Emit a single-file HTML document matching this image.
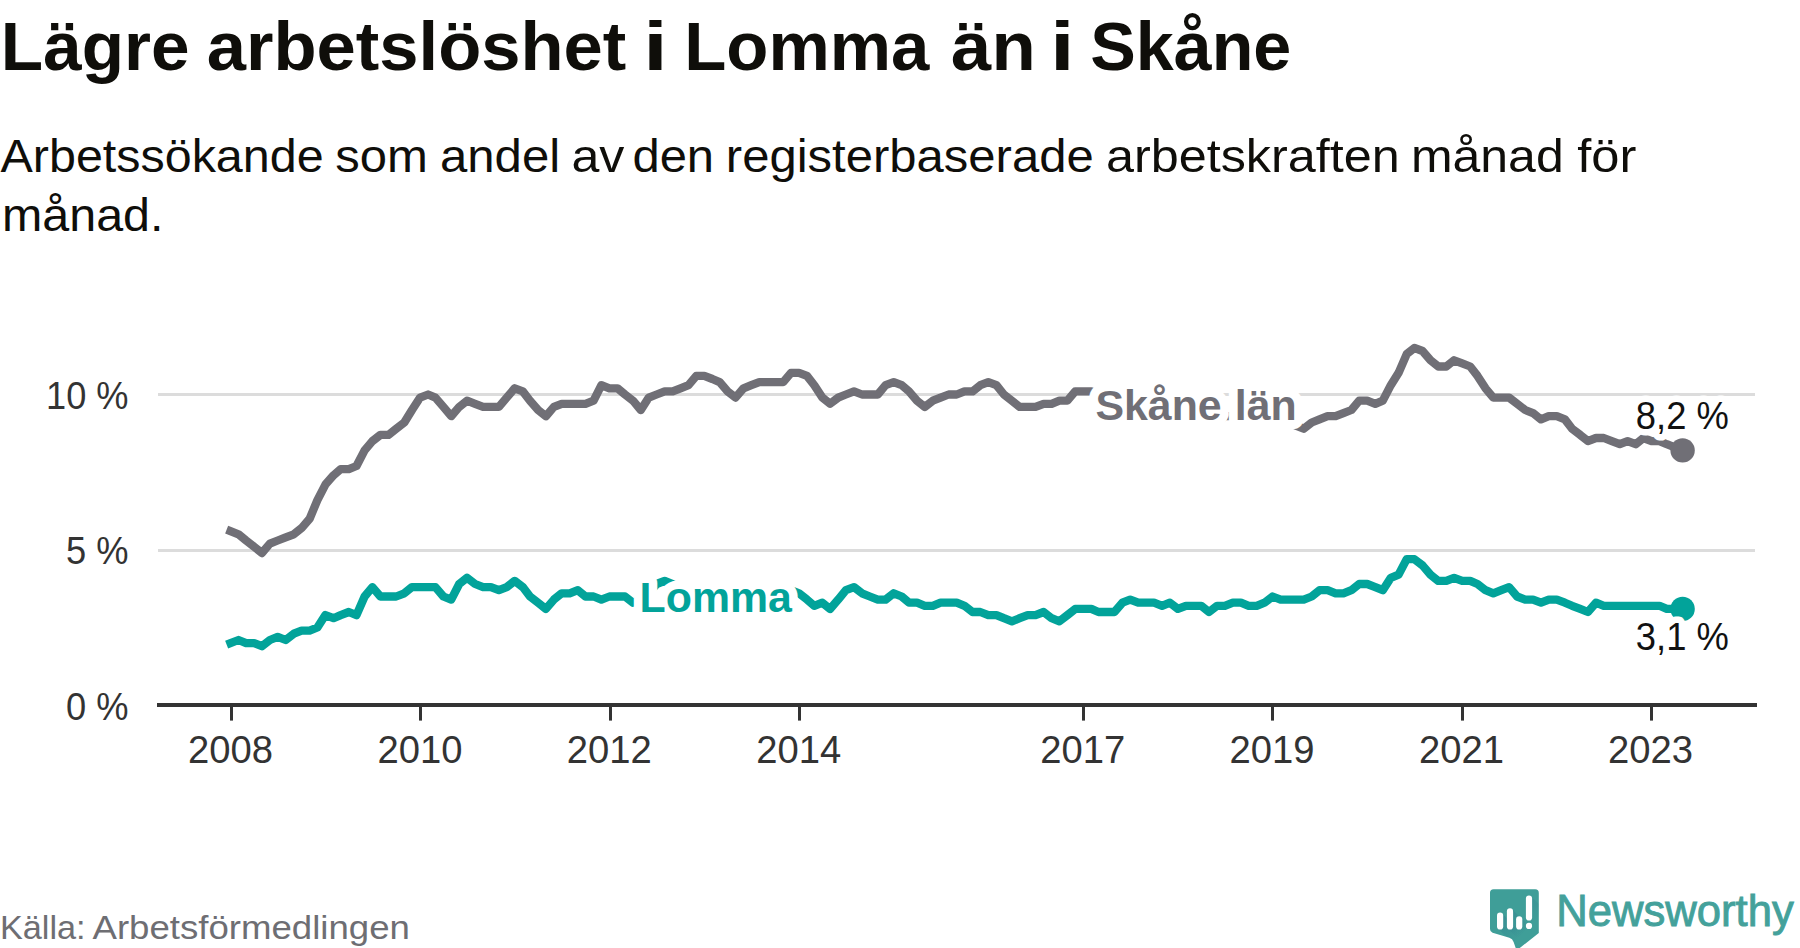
<!DOCTYPE html>
<html lang="sv"><head><meta charset="utf-8"><title>Lägre arbetslöshet i Lomma än i Skåne</title>
<style>
html,body{margin:0;padding:0;background:#fff;}
body{width:1800px;height:948px;overflow:hidden;}
svg{display:block;}
text{font-family:"Liberation Sans",sans-serif;}
.b{font-weight:bold;}
.halo{paint-order:stroke fill;stroke:#fff;stroke-linejoin:round;stroke-linecap:round;}
</style></head><body>
<svg width="1800" height="948" viewBox="0 0 1800 948">
<rect width="1800" height="948" fill="#fff"/>
<text id="title" class="b" y="69.5" font-size="67.6" fill="#0f0e0a"><tspan x="0.88" textLength="188.73" lengthAdjust="spacingAndGlyphs">Lägre</tspan> <tspan x="206.83" textLength="419.43" lengthAdjust="spacingAndGlyphs">arbetslöshet</tspan> <tspan x="643.29" textLength="24.42" lengthAdjust="spacingAndGlyphs">i</tspan> <tspan x="684.29" textLength="244.96" lengthAdjust="spacingAndGlyphs">Lomma</tspan> <tspan x="951.13" textLength="84.67" lengthAdjust="spacingAndGlyphs">än</tspan> <tspan x="1050.09" textLength="24.63" lengthAdjust="spacingAndGlyphs">i</tspan> <tspan x="1090.17" textLength="201.18" lengthAdjust="spacingAndGlyphs">Skåne</tspan></text>
<text id="sub1" class="" y="172" font-size="46.5" fill="#0f0e0a"><tspan x="0.52" textLength="323.11" lengthAdjust="spacingAndGlyphs">Arbetssökande</tspan> <tspan x="335.17" textLength="92.66" lengthAdjust="spacingAndGlyphs">som</tspan> <tspan x="440.03" textLength="120.10" lengthAdjust="spacingAndGlyphs">andel</tspan> <tspan x="571.41" textLength="52.97" lengthAdjust="spacingAndGlyphs">av</tspan> <tspan x="632.44" textLength="81.65" lengthAdjust="spacingAndGlyphs">den</tspan> <tspan x="725.86" textLength="367.82" lengthAdjust="spacingAndGlyphs">registerbaserade</tspan> <tspan x="1106.02" textLength="293.60" lengthAdjust="spacingAndGlyphs">arbetskraften</tspan> <tspan x="1410.92" textLength="152.79" lengthAdjust="spacingAndGlyphs">månad</tspan> <tspan x="1577.26" textLength="59.15" lengthAdjust="spacingAndGlyphs">för</tspan></text>
<text id="sub2" class="" x="2" y="231.25" font-size="46.5" fill="#0f0e0a" text-anchor="start" textLength="161.5" lengthAdjust="spacingAndGlyphs" >månad.</text>
<line x1="158" x2="1755" y1="394.50" y2="394.50" stroke="#dcdcdc" stroke-width="3"/>
<line x1="158" x2="1755" y1="550.50" y2="550.50" stroke="#dcdcdc" stroke-width="3"/>
<path d="M230.5,531.2 L238.5,534.3 L246.1,540.5 L254.1,546.7 L261.9,553.0 L269.9,543.6 L277.7,540.5 L285.7,537.4 L293.8,534.3 L301.6,528.1 L309.6,518.8 L317.4,500.1 L325.4,484.6 L333.5,475.3 L340.7,469.1 L348.8,469.1 L356.5,466.0 L364.6,450.4 L372.4,441.1 L380.4,434.9 L388.4,434.9 L396.2,428.7 L404.3,422.5 L412.0,410.0 L420.1,397.6 L428.1,394.5 L435.4,397.6 L443.4,406.9 L451.2,416.2 L459.2,406.9 L467.0,400.7 L475.1,403.8 L483.1,406.9 L490.9,406.9 L498.9,406.9 L506.7,397.6 L514.7,388.3 L522.8,391.4 L530.0,400.7 L538.1,410.0 L545.9,416.2 L553.9,406.9 L561.7,403.8 L569.7,403.8 L577.8,403.8 L585.5,403.8 L593.6,400.7 L601.4,385.2 L609.4,388.3 L617.5,388.3 L625.0,394.5 L633.0,400.7 L640.8,410.0 L648.8,397.6 L656.6,394.5 L664.7,391.4 L672.7,391.4 L680.5,388.3 L688.5,385.2 L696.3,375.9 L704.3,375.9 L712.4,379.0 L719.6,382.1 L727.7,391.4 L735.5,397.6 L743.5,388.3 L751.3,385.2 L759.3,382.1 L767.4,382.1 L775.1,382.1 L783.2,382.1 L791.0,372.8 L799.0,372.8 L807.0,375.9 L814.3,385.2 L822.3,397.6 L830.1,403.8 L838.2,397.6 L845.9,394.5 L854.0,391.4 L862.0,394.5 L869.8,394.5 L877.8,394.5 L885.6,385.2 L893.7,382.1 L901.7,385.2 L909.0,391.4 L917.0,400.7 L924.8,406.9 L932.8,400.7 L940.6,397.6 L948.6,394.5 L956.7,394.5 L964.5,391.4 L972.5,391.4 L980.3,385.2 L988.3,382.1 L996.4,385.2 L1003.9,394.5 L1011.9,400.7 L1019.7,406.9 L1027.7,406.9 L1035.5,406.9 L1043.6,403.8 L1051.6,403.8 L1059.4,400.7 L1067.4,400.7 L1075.2,391.4 L1083.2,391.4 L1091.3,391.4 L1098.5,394.5 L1106.6,400.7 L1114.4,406.9 L1122.4,406.9 L1130.2,403.8 L1138.2,403.8 L1146.3,406.9 L1154.0,406.9 L1162.1,406.9 L1169.9,400.7 L1177.9,400.7 L1185.9,403.8 L1193.2,410.0 L1201.2,416.2 L1209.0,422.5 L1217.1,422.5 L1224.8,416.2 L1232.9,416.2 L1240.9,419.4 L1248.7,422.5 L1256.7,422.5 L1264.5,416.2 L1272.6,416.2 L1280.6,419.4 L1287.9,422.5 L1295.9,425.6 L1303.7,428.7 L1311.7,422.5 L1319.5,419.4 L1327.6,416.2 L1335.6,416.2 L1343.4,413.1 L1351.4,410.0 L1359.2,400.7 L1367.2,400.7 L1375.3,403.8 L1382.8,400.7 L1390.8,385.2 L1398.6,372.8 L1406.7,354.1 L1414.4,347.9 L1422.5,351.0 L1430.5,360.3 L1438.3,366.5 L1446.3,366.5 L1454.1,360.3 L1462.2,363.4 L1470.2,366.5 L1477.5,375.9 L1485.5,388.3 L1493.3,397.6 L1501.3,397.6 L1509.1,397.6 L1517.1,403.8 L1525.2,410.0 L1533.0,413.1 L1541.0,419.4 L1548.8,416.2 L1556.8,416.2 L1564.9,419.4 L1572.1,428.7 L1580.2,434.9 L1587.9,441.1 L1596.0,438.0 L1603.8,438.0 L1611.8,441.1 L1619.8,444.2 L1627.6,441.1 L1635.7,444.2 L1643.4,438.0 L1651.5,441.1 L1659.5,441.1 L1666.8,444.2 L1674.8,447.3 L1682.6,450.4" fill="none" stroke="#706f76" stroke-width="8.3" stroke-linejoin="round" stroke-linecap="square"/>
<path d="M230.5,643.1 L238.5,640.0 L246.1,643.1 L254.1,643.1 L261.9,646.2 L269.9,640.0 L277.7,636.8 L285.7,640.0 L293.8,633.7 L301.6,630.6 L309.6,630.6 L317.4,627.5 L325.4,615.1 L333.5,618.2 L340.7,615.1 L348.8,612.0 L356.5,615.1 L364.6,596.5 L372.4,587.1 L380.4,596.5 L388.4,596.5 L396.2,596.5 L404.3,593.3 L412.0,587.1 L420.1,587.1 L428.1,587.1 L435.4,587.1 L443.4,596.5 L451.2,599.6 L459.2,584.0 L467.0,577.8 L475.1,584.0 L483.1,587.1 L490.9,587.1 L498.9,590.2 L506.7,587.1 L514.7,580.9 L522.8,587.1 L530.0,596.5 L538.1,602.7 L545.9,608.9 L553.9,599.6 L561.7,593.3 L569.7,593.3 L577.8,590.2 L585.5,596.5 L593.6,596.5 L601.4,599.6 L609.4,596.5 L617.5,596.5 L625.0,596.5 L633.0,602.7 L640.8,599.6 L648.8,593.3 L656.6,584.0 L664.7,580.9 L672.7,584.0 L680.5,590.2 L688.5,593.3 L696.3,593.3 L704.3,590.2 L712.4,593.3 L719.6,596.5 L727.7,599.6 L735.5,602.7 L743.5,599.6 L751.3,596.5 L759.3,596.5 L767.4,596.5 L775.1,596.5 L783.2,593.3 L791.0,590.2 L799.0,593.3 L807.0,599.6 L814.3,605.8 L822.3,602.7 L830.1,608.9 L838.2,599.6 L845.9,590.2 L854.0,587.1 L862.0,593.3 L869.8,596.5 L877.8,599.6 L885.6,599.6 L893.7,593.3 L901.7,596.5 L909.0,602.7 L917.0,602.7 L924.8,605.8 L932.8,605.8 L940.6,602.7 L948.6,602.7 L956.7,602.7 L964.5,605.8 L972.5,612.0 L980.3,612.0 L988.3,615.1 L996.4,615.1 L1003.9,618.2 L1011.9,621.3 L1019.7,618.2 L1027.7,615.1 L1035.5,615.1 L1043.6,612.0 L1051.6,618.2 L1059.4,621.3 L1067.4,615.1 L1075.2,608.9 L1083.2,608.9 L1091.3,608.9 L1098.5,612.0 L1106.6,612.0 L1114.4,612.0 L1122.4,602.7 L1130.2,599.6 L1138.2,602.7 L1146.3,602.7 L1154.0,602.7 L1162.1,605.8 L1169.9,602.7 L1177.9,608.9 L1185.9,605.8 L1193.2,605.8 L1201.2,605.8 L1209.0,612.0 L1217.1,605.8 L1224.8,605.8 L1232.9,602.7 L1240.9,602.7 L1248.7,605.8 L1256.7,605.8 L1264.5,602.7 L1272.6,596.5 L1280.6,599.6 L1287.9,599.6 L1295.9,599.6 L1303.7,599.6 L1311.7,596.5 L1319.5,590.2 L1327.6,590.2 L1335.6,593.3 L1343.4,593.3 L1351.4,590.2 L1359.2,584.0 L1367.2,584.0 L1375.3,587.1 L1382.8,590.2 L1390.8,577.8 L1398.6,574.7 L1406.7,559.2 L1414.4,559.2 L1422.5,565.4 L1430.5,574.7 L1438.3,580.9 L1446.3,580.9 L1454.1,577.8 L1462.2,580.9 L1470.2,580.9 L1477.5,584.0 L1485.5,590.2 L1493.3,593.3 L1501.3,590.2 L1509.1,587.1 L1517.1,596.5 L1525.2,599.6 L1533.0,599.6 L1541.0,602.7 L1548.8,599.6 L1556.8,599.6 L1564.9,602.7 L1572.1,605.8 L1580.2,608.9 L1587.9,612.0 L1596.0,602.7 L1603.8,605.8 L1611.8,605.8 L1619.8,605.8 L1627.6,605.8 L1635.7,605.8 L1643.4,605.8 L1651.5,605.8 L1659.5,605.8 L1666.8,608.9 L1674.8,608.9 L1682.6,608.9" fill="none" stroke="#02a39a" stroke-width="8.3" stroke-linejoin="round" stroke-linecap="square"/>
<circle cx="1682.6" cy="450.4" r="12.2" fill="#706f76"/>
<circle cx="1682.6" cy="608.9" r="12.2" fill="#02a39a"/>
<line x1="157" x2="1757" y1="705" y2="705" stroke="#333" stroke-width="4"/>
<line x1="231.5" x2="231.5" y1="705" y2="720.6" stroke="#333" stroke-width="3"/>
<line x1="420.5" x2="420.5" y1="705" y2="720.6" stroke="#333" stroke-width="3"/>
<line x1="610.5" x2="610.5" y1="705" y2="720.6" stroke="#333" stroke-width="3"/>
<line x1="799.5" x2="799.5" y1="705" y2="720.6" stroke="#333" stroke-width="3"/>
<line x1="1083.5" x2="1083.5" y1="705" y2="720.6" stroke="#333" stroke-width="3"/>
<line x1="1272.5" x2="1272.5" y1="705" y2="720.6" stroke="#333" stroke-width="3"/>
<line x1="1462.5" x2="1462.5" y1="705" y2="720.6" stroke="#333" stroke-width="3"/>
<line x1="1651.5" x2="1651.5" y1="705" y2="720.6" stroke="#333" stroke-width="3"/>
<text x="128.5" y="408.7" font-size="39.2" fill="#333" text-anchor="end" textLength="82.5" lengthAdjust="spacingAndGlyphs">10 %</text>
<text x="128.5" y="564.2" font-size="39.2" fill="#333" text-anchor="end" textLength="62.5" lengthAdjust="spacingAndGlyphs">5 %</text>
<text x="128.5" y="719.5" font-size="39.2" fill="#333" text-anchor="end" textLength="62.5" lengthAdjust="spacingAndGlyphs">0 %</text>
<text x="230.6" y="763" font-size="39.2" fill="#333" text-anchor="middle" textLength="85" lengthAdjust="spacingAndGlyphs">2008</text>
<text x="420.1" y="763" font-size="39.2" fill="#333" text-anchor="middle" textLength="85" lengthAdjust="spacingAndGlyphs">2010</text>
<text x="609.2" y="763" font-size="39.2" fill="#333" text-anchor="middle" textLength="85" lengthAdjust="spacingAndGlyphs">2012</text>
<text x="798.7" y="763" font-size="39.2" fill="#333" text-anchor="middle" textLength="85" lengthAdjust="spacingAndGlyphs">2014</text>
<text x="1082.8" y="763" font-size="39.2" fill="#333" text-anchor="middle" textLength="85" lengthAdjust="spacingAndGlyphs">2017</text>
<text x="1272.0" y="763" font-size="39.2" fill="#333" text-anchor="middle" textLength="85" lengthAdjust="spacingAndGlyphs">2019</text>
<text x="1461.4" y="763" font-size="39.2" fill="#333" text-anchor="middle" textLength="85" lengthAdjust="spacingAndGlyphs">2021</text>
<text x="1650.6" y="763" font-size="39.2" fill="#333" text-anchor="middle" textLength="85" lengthAdjust="spacingAndGlyphs">2023</text>
<text id="skane" class="b halo" x="1095.40" y="420.2" font-size="43" fill="#706f76" stroke-width="17.8" word-spacing="1.28" textLength="201.40" lengthAdjust="spacingAndGlyphs">Skåne län</text>
<text id="lomma" class="b halo" y="611.7" font-size="43" fill="#02a39a" stroke-width="17.2"><tspan x="639.59" textLength="152.36" lengthAdjust="spacingAndGlyphs">Lomma</tspan></text>
<text class="halo" x="1682.3" y="429" font-size="38.5" fill="#111" stroke-width="13" text-anchor="middle" textLength="93" lengthAdjust="spacingAndGlyphs">8,2 %</text>
<text class="halo" x="1682.3" y="649.6" font-size="38.5" fill="#111" stroke-width="13" text-anchor="middle" textLength="93" lengthAdjust="spacingAndGlyphs">3,1 %</text>
<text id="foot" class="" y="938.9" font-size="33" fill="#6e6e73"><tspan x="-0.11" textLength="85.72" lengthAdjust="spacingAndGlyphs">Källa:</tspan> <tspan x="92.52" textLength="317.40" lengthAdjust="spacingAndGlyphs">Arbetsförmedlingen</tspan></text>
<g id="logo">
<path d="M1493.6,889.3 H1535.2 Q1538.8,889.3 1538.8,892.9 V932.9 L1516.6,950.5 L1513.6,942 Q1512.6,938.8 1509.4,937.8 L1492.6,932.8 Q1490,932 1490,929 V892.9 Q1490,889.3 1493.6,889.3 Z" fill="#3f9e98"/>
<defs><clipPath id="bub"><path d="M1493.6,889.3 H1535.2 Q1538.8,889.3 1538.8,892.9 V932.9 L1516.6,950.5 L1513.6,942 Q1512.6,938.8 1509.4,937.8 L1492.6,932.8 Q1490,932 1490,929 V892.9 Q1490,889.3 1493.6,889.3 Z"/></clipPath>
<linearGradient id="shd" gradientUnits="userSpaceOnUse" x1="1500" y1="905" x2="1526" y2="931"><stop offset="0" stop-color="#2c6f8a" stop-opacity="0.45"/><stop offset="1" stop-color="#2c6f8a" stop-opacity="0"/></linearGradient></defs>
<g clip-path="url(#bub)" fill="url(#shd)"><polygon points="1497.0,927.5 1503.2,914.6 1529.2,940.6 1523.0,953.5"/><polygon points="1506.9,927.5 1513.1,910.3 1539.1,936.3 1532.9,953.5"/><polygon points="1516.1,927.5 1522.3,918.2 1548.3,944.2 1542.1,953.5"/><polygon points="1525.9,927.0 1532.1,897.4 1558.1,923.4 1551.9,953.0"/></g>
<g stroke="#fff" stroke-linecap="round" stroke-width="6.2">
<line x1="1500.1" y1="915.7" x2="1500.1" y2="926.4"/>
<line x1="1510" y1="911.4" x2="1510" y2="926.4"/>
<line x1="1519.2" y1="919.3" x2="1519.2" y2="926.4"/>
<line x1="1529" y1="898.5" x2="1529" y2="917.4"/>
</g>
<circle cx="1529" cy="925.9" r="3.1" fill="#fff"/>
</g>
<text x="1556.3" y="926" font-size="43.5" fill="#44a19b" stroke="#44a19b" stroke-width="0.9" textLength="237.5" lengthAdjust="spacingAndGlyphs">Newsworthy</text>
</svg>
</body></html>
